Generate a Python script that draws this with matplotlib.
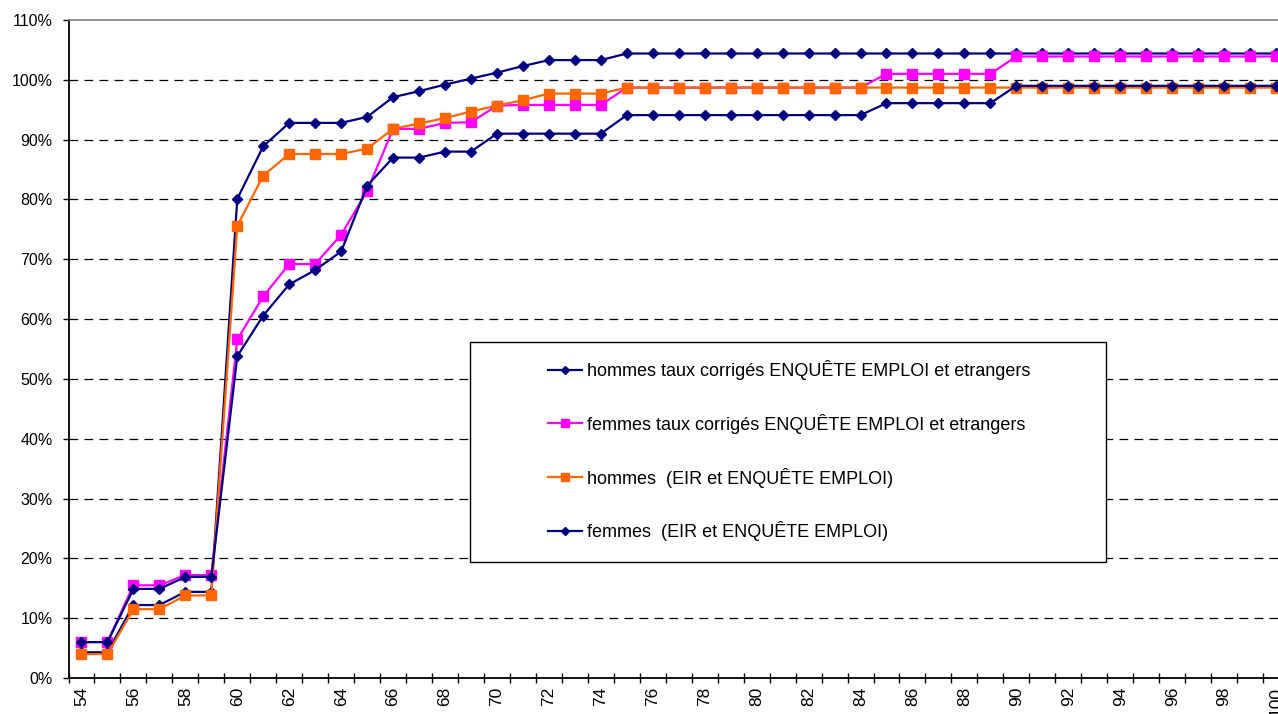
import matplotlib
matplotlib.use("Agg")
import matplotlib.pyplot as plt
from matplotlib.patches import Rectangle

plt.rcParams['font.family'] = ['Liberation Sans', 'DejaVu Sans']

# Ages (categories)
ages = [54, 55, 56, 57, 58, 59, 60, 61, 62, 63, 64, 65, 66, 67, 68, 69, 70,
        71, 72, 73, 74, 75, 76, 77, 78, 79, 80, 81, 82, 83, 84, 85, 86, 87,
        88, 89, 90, 91, 92, 93, 94, 95, 96, 97, 98, 99, 100]

# Series values (%)
hommes_corriges = [4.3, 4.3, 12.2, 12.2, 14.4, 14.4, 80.1, 88.9, 92.8, 92.8,
                   92.8, 93.8, 97.1, 98.1, 99.2, 100.2, 101.2, 102.3, 103.3,
                   103.3, 103.3, 104.4, 104.4, 104.4, 104.4, 104.4, 104.4,
                   104.4, 104.4, 104.4, 104.4, 104.4, 104.4, 104.4, 104.4,
                   104.4, 104.4, 104.4, 104.4, 104.4, 104.4, 104.4, 104.4,
                   104.4, 104.4, 104.4, 104.4]

femmes_corriges = [6.0, 6.0, 15.5, 15.5, 17.2, 17.2, 56.6, 63.8, 69.2, 69.2,
                   74.1, 81.4, 91.8, 91.8, 92.8, 92.9, 95.7, 95.8, 95.8, 95.8,
                   95.8, 98.7, 98.7, 98.7, 98.7, 98.7, 98.7, 98.7, 98.7, 98.7,
                   98.7, 101.0, 101.0, 101.0, 101.0, 101.0, 103.9, 103.9,
                   103.9, 103.9, 103.9, 103.9, 103.9, 103.9, 103.9, 103.9,
                   103.9]

hommes_eir = [4.0, 4.0, 11.5, 11.5, 13.8, 13.8, 75.6, 84.0, 87.6, 87.6, 87.6,
              88.5, 91.8, 92.7, 93.6, 94.7, 95.7, 96.6, 97.7, 97.7, 97.7,
              98.7, 98.7, 98.7, 98.7, 98.7, 98.7, 98.7, 98.7, 98.7, 98.7,
              98.7, 98.7, 98.7, 98.7, 98.7, 98.7, 98.7, 98.7, 98.7, 98.7,
              98.7, 98.7, 98.7, 98.7, 98.7, 98.7]

femmes_eir = [6.0, 6.0, 14.9, 14.9, 16.9, 16.9, 53.8, 60.6, 65.8, 68.2, 71.3,
              82.3, 87.0, 87.0, 88.0, 88.0, 91.0, 91.0, 91.0, 91.0, 91.0,
              94.1, 94.1, 94.1, 94.1, 94.1, 94.1, 94.1, 94.1, 94.1, 94.1,
              96.1, 96.1, 96.1, 96.1, 96.1, 99.0, 99.0, 99.0, 99.0, 99.0,
              99.0, 99.0, 99.0, 99.0, 99.0, 99.0]

labels = ["hommes taux corrigés ENQUÊTE EMPLOI et etrangers",
          "femmes taux corrigés ENQUÊTE EMPLOI et etrangers",
          "hommes  (EIR et ENQUÊTE EMPLOI)",
          "femmes  (EIR et ENQUÊTE EMPLOI)"]

y_ticks = [0, 10, 20, 30, 40, 50, 60, 70, 80, 90, 100, 110]
x_labels = [54, 56, 58, 60, 62, 64, 66, 68, 70, 72, 74, 76, 78, 80, 82, 84,
            86, 88, 90, 92, 94, 96, 98, 100]

W, H = 1278, 714
fig = plt.figure(figsize=(W / 100, H / 100), dpi=100)
# plot area runs a little past the right edge, like the original
left_px, right_px, top_px, bottom_px = 68.5, 1289, 20, 678
ax = fig.add_axes([left_px / W, 1 - bottom_px / H,
                   (right_px - left_px) / W, (bottom_px - top_px) / H])

navy = "#000080"
pink = "#FF00FF"
orange = "#FF6600"

# gridlines
for v in y_ticks[1:-1]:
    ax.axhline(v, color="black", lw=0.9, linestyle=(0, (7, 5)), zorder=1)

l1, = ax.plot(ages, hommes_corriges, color=navy, lw=1.6, marker="D", ms=5,
              zorder=3)
l2, = ax.plot(ages, femmes_corriges, color=pink, lw=1.6, marker="s", ms=7.5,
              zorder=3)
l3, = ax.plot(ages, hommes_eir, color=orange, lw=1.6, marker="s", ms=7.5,
              zorder=3)
l4, = ax.plot(ages, femmes_eir, color=navy, lw=1.6, marker="D", ms=5,
              zorder=3)

ax.set_xlim(53.5, 100.5)
ax.set_ylim(0, 110)

ax.set_yticks(y_ticks)
ax.set_yticklabels([f"{v}%" for v in y_ticks], fontsize=11.5)
ax.tick_params(axis="y", direction="out", length=4.5, width=1, pad=7)

# ticks between categories, labels on every other category
ax.set_xticks([a - 0.5 for a in ages] + [100.5])
ax.set_xticklabels([])
ax.tick_params(axis="x", which="major", direction="inout", length=7.5, width=1)
ax.set_xticks(x_labels, minor=True)
ax.set_xticklabels([str(a) for a in x_labels], minor=True, rotation=90,
                   fontsize=12.5)
ax.tick_params(axis="x", which="minor", length=0, pad=6.5)

for s in ["left", "bottom"]:
    ax.spines[s].set_linewidth(1.3)
    ax.spines[s].set_color("black")
ax.spines["top"].set_color("#808080")
ax.spines["top"].set_linewidth(1.2)
ax.spines["right"].set_visible(False)

# legend box
box = Rectangle((470 / W, 1 - 562 / H), (1106 - 470) / W, (562 - 342) / H,
                transform=fig.transFigure, facecolor="white",
                edgecolor="black", lw=1, zorder=10)
fig.patches.append(box)

leg = fig.legend([l1, l2, l3, l4], labels, loc="upper left",
                 bbox_to_anchor=(548 / W, 1 - 360 / H), frameon=False,
                 borderpad=0, borderaxespad=0, handlelength=1.89,
                 handletextpad=0.28, labelspacing=1.87, fontsize=13,
                 numpoints=1, markerscale=0.85)
leg.set_zorder(11)

fig.savefig("out.png", dpi=100)
